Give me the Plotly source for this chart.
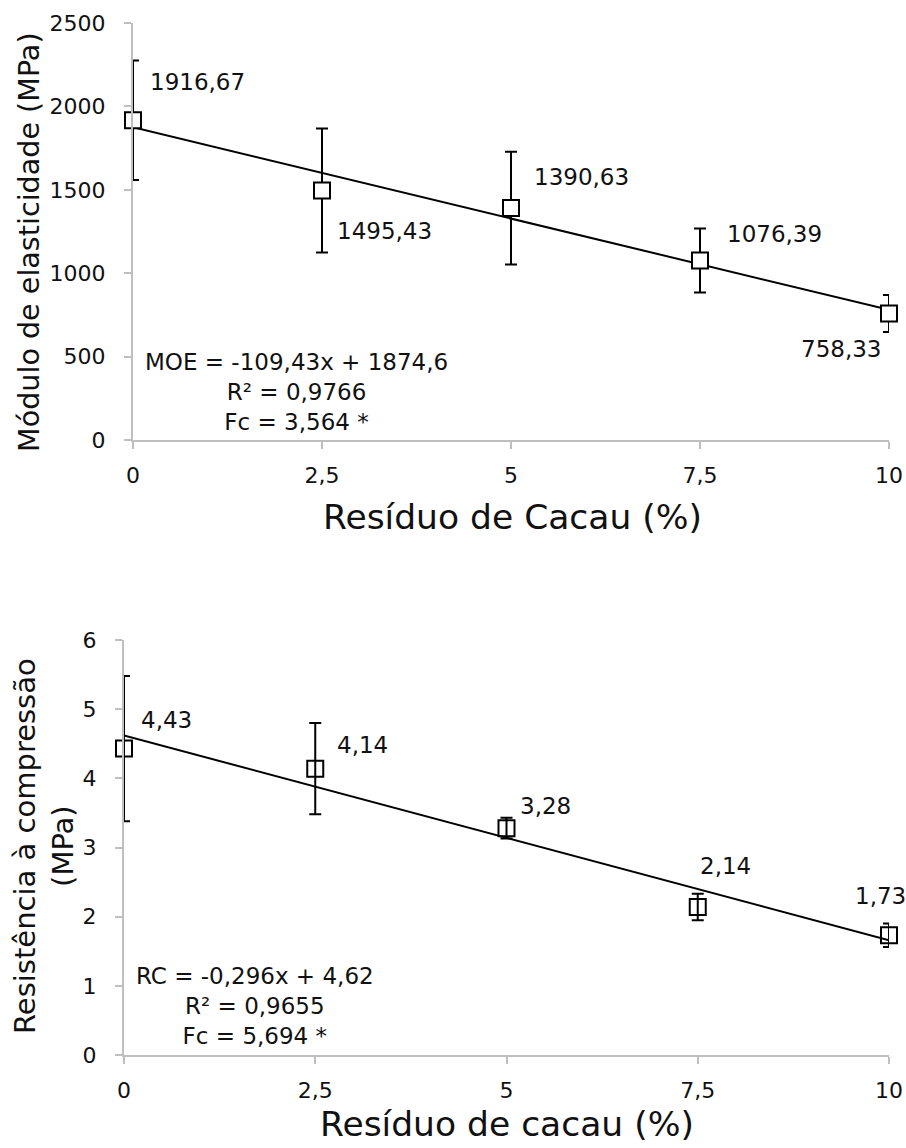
import plotly.graph_objects as go

# ---------------- data ----------------
residuo = [0, 2.5, 5, 7.5, 10]
tick_text = ["0", "2,5", "5", "7,5", "10"]

moe_values = [1916.67, 1495.43, 1390.63, 1076.39, 758.33]
moe_errors = [358, 372, 338, 192, 111]
moe_slope, moe_intercept = -109.43, 1874.6
moe_r2, moe_fc = 0.9766, 3.564
moe_yticks = [0, 500, 1000, 1500, 2000, 2500]

rc_values = [4.43, 4.14, 3.28, 2.14, 1.73]
rc_errors = [1.05, 0.66, 0.15, 0.19, 0.17]
rc_slope, rc_intercept = -0.296, 4.62
rc_r2, rc_fc = 0.9655, 5.694
rc_yticks = [0, 1, 2, 3, 4, 5, 6]

# ---------------- styling / layout helpers ----------------
W, H = 906, 1148
FONT = "DejaVu Sans"
AXIS_COLOR = "#bfbfbf"
TXT = "#111111"


def px_x(p):
    return p / W


def px_y(p):
    return 1 - p / H


def br(v):
    return str(v).replace(".", ",")


def lbl(v):
    return f"{v:.2f}".replace(".", ",")


# label placement offsets (dx px from marker, dy px screen-down, anchor)
moe_lbl_pos = [(15, -38, "left"), (13, 40, "left"), (21, -31, "left"),
               (25, -26, "left"), (-6, 35, "right")]
rc_lbl_pos = [(15, -29, "left"), (20, -24, "left"), (11, -22, "left"),
              (0, -41, "left"), (-36, -39, "left")]

fig = go.Figure()


def add_panel(xa, ya, vals, errs, slope, intercept, open_marker):
    xs = [residuo[0], residuo[-1]]
    fig.add_trace(go.Scatter(
        x=xs, y=[intercept + slope * x for x in xs], mode="lines",
        line=dict(color="black", width=2), xaxis=xa, yaxis=ya,
        showlegend=False, hoverinfo="skip"))
    fig.add_trace(go.Scatter(
        x=residuo, y=vals, mode="markers", marker=dict(size=2, opacity=0),
        error_y=dict(type="data", array=errs, color="black", thickness=2, width=6),
        cliponaxis=True, xaxis=xa, yaxis=ya, showlegend=False, hoverinfo="skip"))
    fig.add_trace(go.Scatter(
        x=residuo, y=vals, mode="markers",
        marker=dict(symbol="square-open" if open_marker else "square",
                    size=16, color="black" if open_marker else "white",
                    line=dict(color="black", width=2)),
        cliponaxis=False, xaxis=xa, yaxis=ya, showlegend=False))


add_panel("x", "y", moe_values, moe_errors, moe_slope, moe_intercept, False)
add_panel("x2", "y2", rc_values, rc_errors, rc_slope, rc_intercept, True)

ax_common = dict(showline=True, linecolor=AXIS_COLOR, linewidth=2, ticks="outside",
                 ticklen=7, tickwidth=2, tickcolor=AXIS_COLOR, showgrid=False,
                 zeroline=False, tickfont=dict(family=FONT, size=22, color=TXT),
                 automargin=False)

fig.update_layout(
    width=W, height=H, margin=dict(l=0, r=0, t=0, b=0, pad=0), autosize=False,
    paper_bgcolor="white", plot_bgcolor="white", showlegend=False,
    font=dict(family=FONT, color=TXT),
    xaxis=dict(domain=[px_x(133), px_x(889)], range=[0, 10], tickvals=residuo,
               ticktext=tick_text, anchor="y", ticklabelstandoff=8, **ax_common),
    yaxis=dict(domain=[px_y(440), px_y(23)], range=[0, 2500], tickvals=moe_yticks,
               anchor="x", ticklabelstandoff=14, **ax_common),
    xaxis2=dict(domain=[px_x(124), px_x(889)], range=[0, 10], tickvals=residuo,
                ticktext=tick_text, anchor="y2", ticklabelstandoff=8, **ax_common),
    yaxis2=dict(domain=[px_y(1055), px_y(640)], range=[0, 6], tickvals=rc_yticks,
                anchor="x2", ticklabelstandoff=14, **ax_common),
)

ann = []
for (xa, ya, vals, pos) in [("x", "y", moe_values, moe_lbl_pos),
                            ("x2", "y2", rc_values, rc_lbl_pos)]:
    for x, v, (dx, dy, anc) in zip(residuo, vals, pos):
        ann.append(dict(x=x, y=v, xref=xa, yref=ya, text=lbl(v), showarrow=False,
                        xanchor=anc, yanchor="middle", xshift=dx, yshift=-dy,
                        font=dict(family=FONT, size=23, color=TXT)))

eq_top = (f"MOE = {br(moe_slope)}x + {br(moe_intercept)}<br>"
          f"R² = {br(moe_r2)}<br>Fc = {br(moe_fc)} *")
eq_bot = (f"RC = {br(rc_slope)}x + {br(rc_intercept)}<br>"
          f"R² = {br(rc_r2)}<br>Fc = {br(rc_fc)} *")
ann.append(dict(x=px_x(296), y=px_y(392), xref="paper", yref="paper", text=eq_top,
                showarrow=False, align="center", xanchor="center", yanchor="middle",
                font=dict(family=FONT, size=23, color=TXT)))
ann.append(dict(x=px_x(255), y=px_y(1006), xref="paper", yref="paper", text=eq_bot,
                showarrow=False, align="center", xanchor="center", yanchor="middle",
                font=dict(family=FONT, size=23, color=TXT)))

# axis titles
ann.append(dict(x=px_x(512), y=px_y(517), xref="paper", yref="paper",
                text="Resíduo de Cacau (%)", showarrow=False, xanchor="center",
                yanchor="middle", font=dict(family=FONT, size=34.5, color=TXT)))
ann.append(dict(x=px_x(507), y=px_y(1124), xref="paper", yref="paper",
                text="Resíduo de cacau (%)", showarrow=False, xanchor="center",
                yanchor="middle", font=dict(family=FONT, size=34.5, color=TXT)))
ann.append(dict(x=px_x(29), y=px_y(242), xref="paper", yref="paper",
                text="Módulo de elasticidade (MPa)", textangle=-90, showarrow=False,
                xanchor="center", yanchor="middle",
                font=dict(family=FONT, size=28.6, color=TXT)))
ann.append(dict(x=px_x(44), y=px_y(846), xref="paper", yref="paper",
                text="Resistência à compressão<br>(MPa)", textangle=-90,
                showarrow=False, align="center", xanchor="center", yanchor="middle",
                font=dict(family=FONT, size=29, color=TXT)))

fig.update_layout(annotations=ann)
fig.write_html(
    "out.html",
    config={"displayModeBar": False},
    post_script="document.body.style.margin='0';document.body.style.overflow='hidden';",
)
